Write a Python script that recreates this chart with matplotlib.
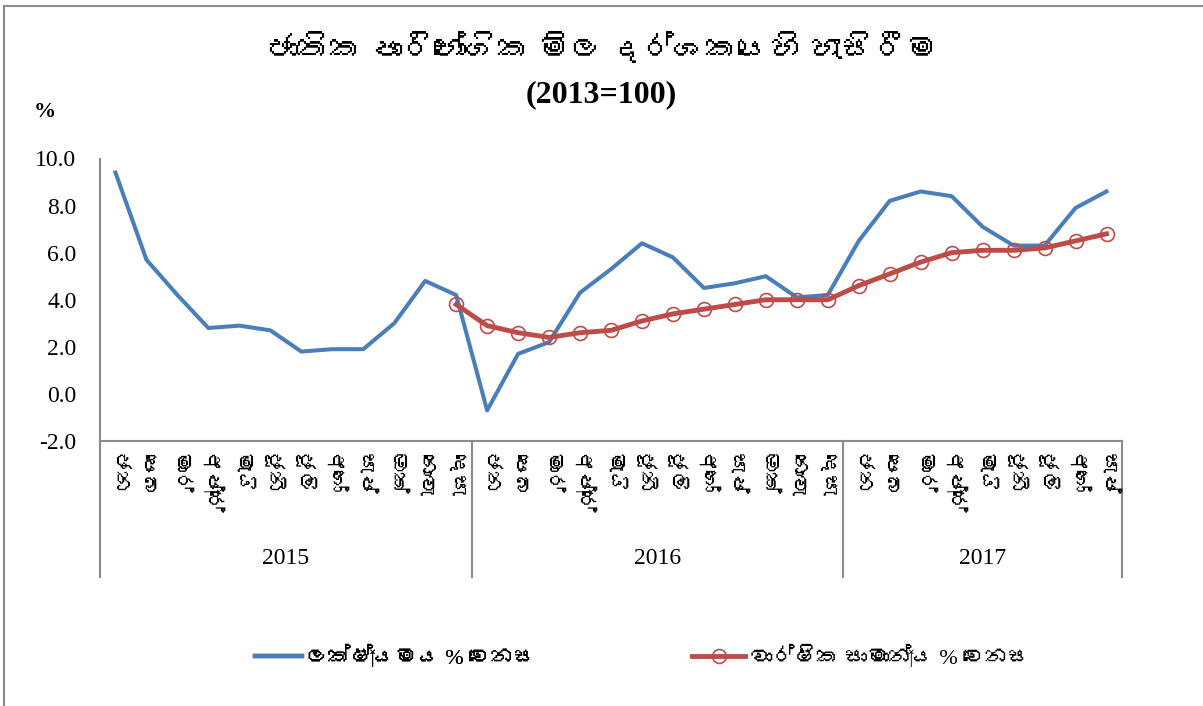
import numpy as np
import matplotlib
matplotlib.use('Agg')
from matplotlib import pyplot as plt
from matplotlib import font_manager, transforms
from matplotlib.ft2font import FT2Font
from matplotlib.lines import Line2D


MONTHS = ['ජන', 'පෙබ', 'මාර්', 'අප්‍රේ', 'මැයි', 'ජූනි',
          'ජූලි', 'අගෝ', 'සැප්', 'ඔක්', 'නොවැ', 'දෙසැ']
YEARS = ['2015', '2016', '2017']
MONTHS_PER_YEAR = [12, 12, 9]

# point to point change (%)
YOY = [9.4, 5.7, 4.2, 2.8, 2.9, 2.7, 1.8, 1.9, 1.9, 3.0, 4.8, 4.2,
       -0.7, 1.7, 2.2, 4.3, 5.3, 6.4, 5.8, 4.5, 4.7, 5.0, 4.1, 4.2,
       6.5, 8.2, 8.6, 8.4, 7.1, 6.3, 6.3, 7.9, 8.6]
# annual average change (%), starts in Dec 2015
AVG = [None] * 11 + [3.8,
       2.9, 2.6, 2.4, 2.6, 2.7, 3.1, 3.4, 3.6, 3.8, 4.0, 4.0, 4.0,
       4.6, 5.1, 5.6, 6.0, 6.1, 6.1, 6.2, 6.5, 6.8]

TITLE_1 = 'ජාතික පාරිභෝගික මිල දර්ශකයෙහි හැසිරීම'
TITLE_2 = '(2013=100)'
LABEL_YOY = 'ලක්ෂ්‍යමය % වෙනස'
LABEL_AVG = 'වාර්ෂික සාමාන්‍ය % වෙනස'

BLUE = '#4A7EBB'
RED = '#BE4B48'
GREY = '#8C8C8C'


def pick_font(sample):
    for f in font_manager.fontManager.ttflist:
        try:
            cmap = FT2Font(f.fname).get_charmap()
        except Exception:
            continue
        if all(ord(c) in cmap for c in sample):
            return f.name
    return None


sin_font = pick_font('ජනක')
SERIF = 'Liberation Serif'
# latin from Liberation Serif, sinhala from whatever font has it, joiners from DejaVu
SIN = [SERIF, sin_font, 'DejaVu Sans'] if sin_font else [SERIF, 'DejaVu Sans']

W, H = 1203, 706
fig = plt.figure(figsize=(W / 100, H / 100), dpi=100)
fig.patch.set_facecolor('white')

# outer chart border (top and left visible)
fig.add_artist(Line2D([4 / W, 4 / W], [0, 1 - 6 / H], transform=fig.transFigure, color=GREY, lw=1.5))
fig.add_artist(Line2D([4 / W, 1], [1 - 6 / H, 1 - 6 / H], transform=fig.transFigure, color=GREY, lw=1.5))

ax = fig.add_axes([100 / W, 1 - 441 / H, 1022 / W, (441 - 158.5) / H])

x = np.arange(len(YOY))
avg = np.array([np.nan if v is None else v for v in AVG])
ax.plot(x, YOY, color=BLUE, lw=2.9, zorder=3)
ax.plot(x, avg, color=RED, lw=3.5, marker='o', markersize=10, markerfacecolor='none',
        markeredgecolor=RED, markeredgewidth=1.2, zorder=4)

ax.set_xlim(-0.5, len(YOY) - 0.5)
ax.set_ylim(-2, 10)
ax.set_yticks(np.arange(-2, 10.1, 2))
ax.set_yticklabels([f'{v:.1f}' for v in np.arange(-2, 10.1, 2)], fontsize=17, family=SERIF)
ax.tick_params(axis='y', length=0, pad=17)
ax.set_xticks([])
for side in ['top', 'right']:
    ax.spines[side].set_visible(False)
for side in ['left', 'bottom']:
    ax.spines[side].set_color(GREY)
    ax.spines[side].set_linewidth(1.5)

# month and year category labels
trans = transforms.blended_transform_factory(ax.transData, fig.transFigure)
i = 0
edges = [-0.5]
for year, n in zip(YEARS, MONTHS_PER_YEAR):
    for m in range(n):
        ax.text(i + m, 1 - 453 / H, MONTHS[m], transform=trans, rotation=-90,
                ha='center', va='top', fontsize=15, family=SIN)
    ax.text(i + (n - 1) / 2, 1 - 558 / H, year, transform=trans, ha='center', va='center',
            fontsize=17, family=SERIF)
    i += n
    edges.append(i - 0.5)
for e in edges:
    ax.add_artist(Line2D([e, e], [1 - 441 / H, 1 - 577 / H], transform=trans, color=GREY,
                         lw=1.5, clip_on=False))

fig.text(0.5, 1 - 50 / H, TITLE_1, ha='center', va='center', fontsize=23, fontweight='bold',
         family=SIN)
fig.text(0.5, 1 - 95 / H, TITLE_2, ha='center', va='center', fontsize=23, fontweight='bold',
         family=SERIF)
fig.text(45 / W, 1 - 112 / H, '%', ha='center', va='center', fontsize=16, fontweight='bold',
         family=SERIF)

h_yoy = Line2D([], [], color=BLUE, lw=3.2)
h_avg = Line2D([], [], color=RED, lw=3.5, marker='o', markersize=10, markerfacecolor='none',
               markeredgecolor=RED, markeredgewidth=1.2)
leg_kw = dict(loc='center left', frameon=False, handletextpad=0.2,
              borderpad=0, borderaxespad=0, prop={'family': SIN, 'size': 16})
leg1 = fig.legend([h_yoy], [LABEL_YOY], bbox_to_anchor=(255 / W, 1 - 657 / H),
                  handlelength=2.1, **leg_kw)
fig.legend([h_avg], [LABEL_AVG], bbox_to_anchor=(692 / W, 1 - 657 / H),
           handlelength=2.4, **leg_kw)
fig.add_artist(leg1)

fig.savefig('out.png', dpi=100, facecolor='white')
